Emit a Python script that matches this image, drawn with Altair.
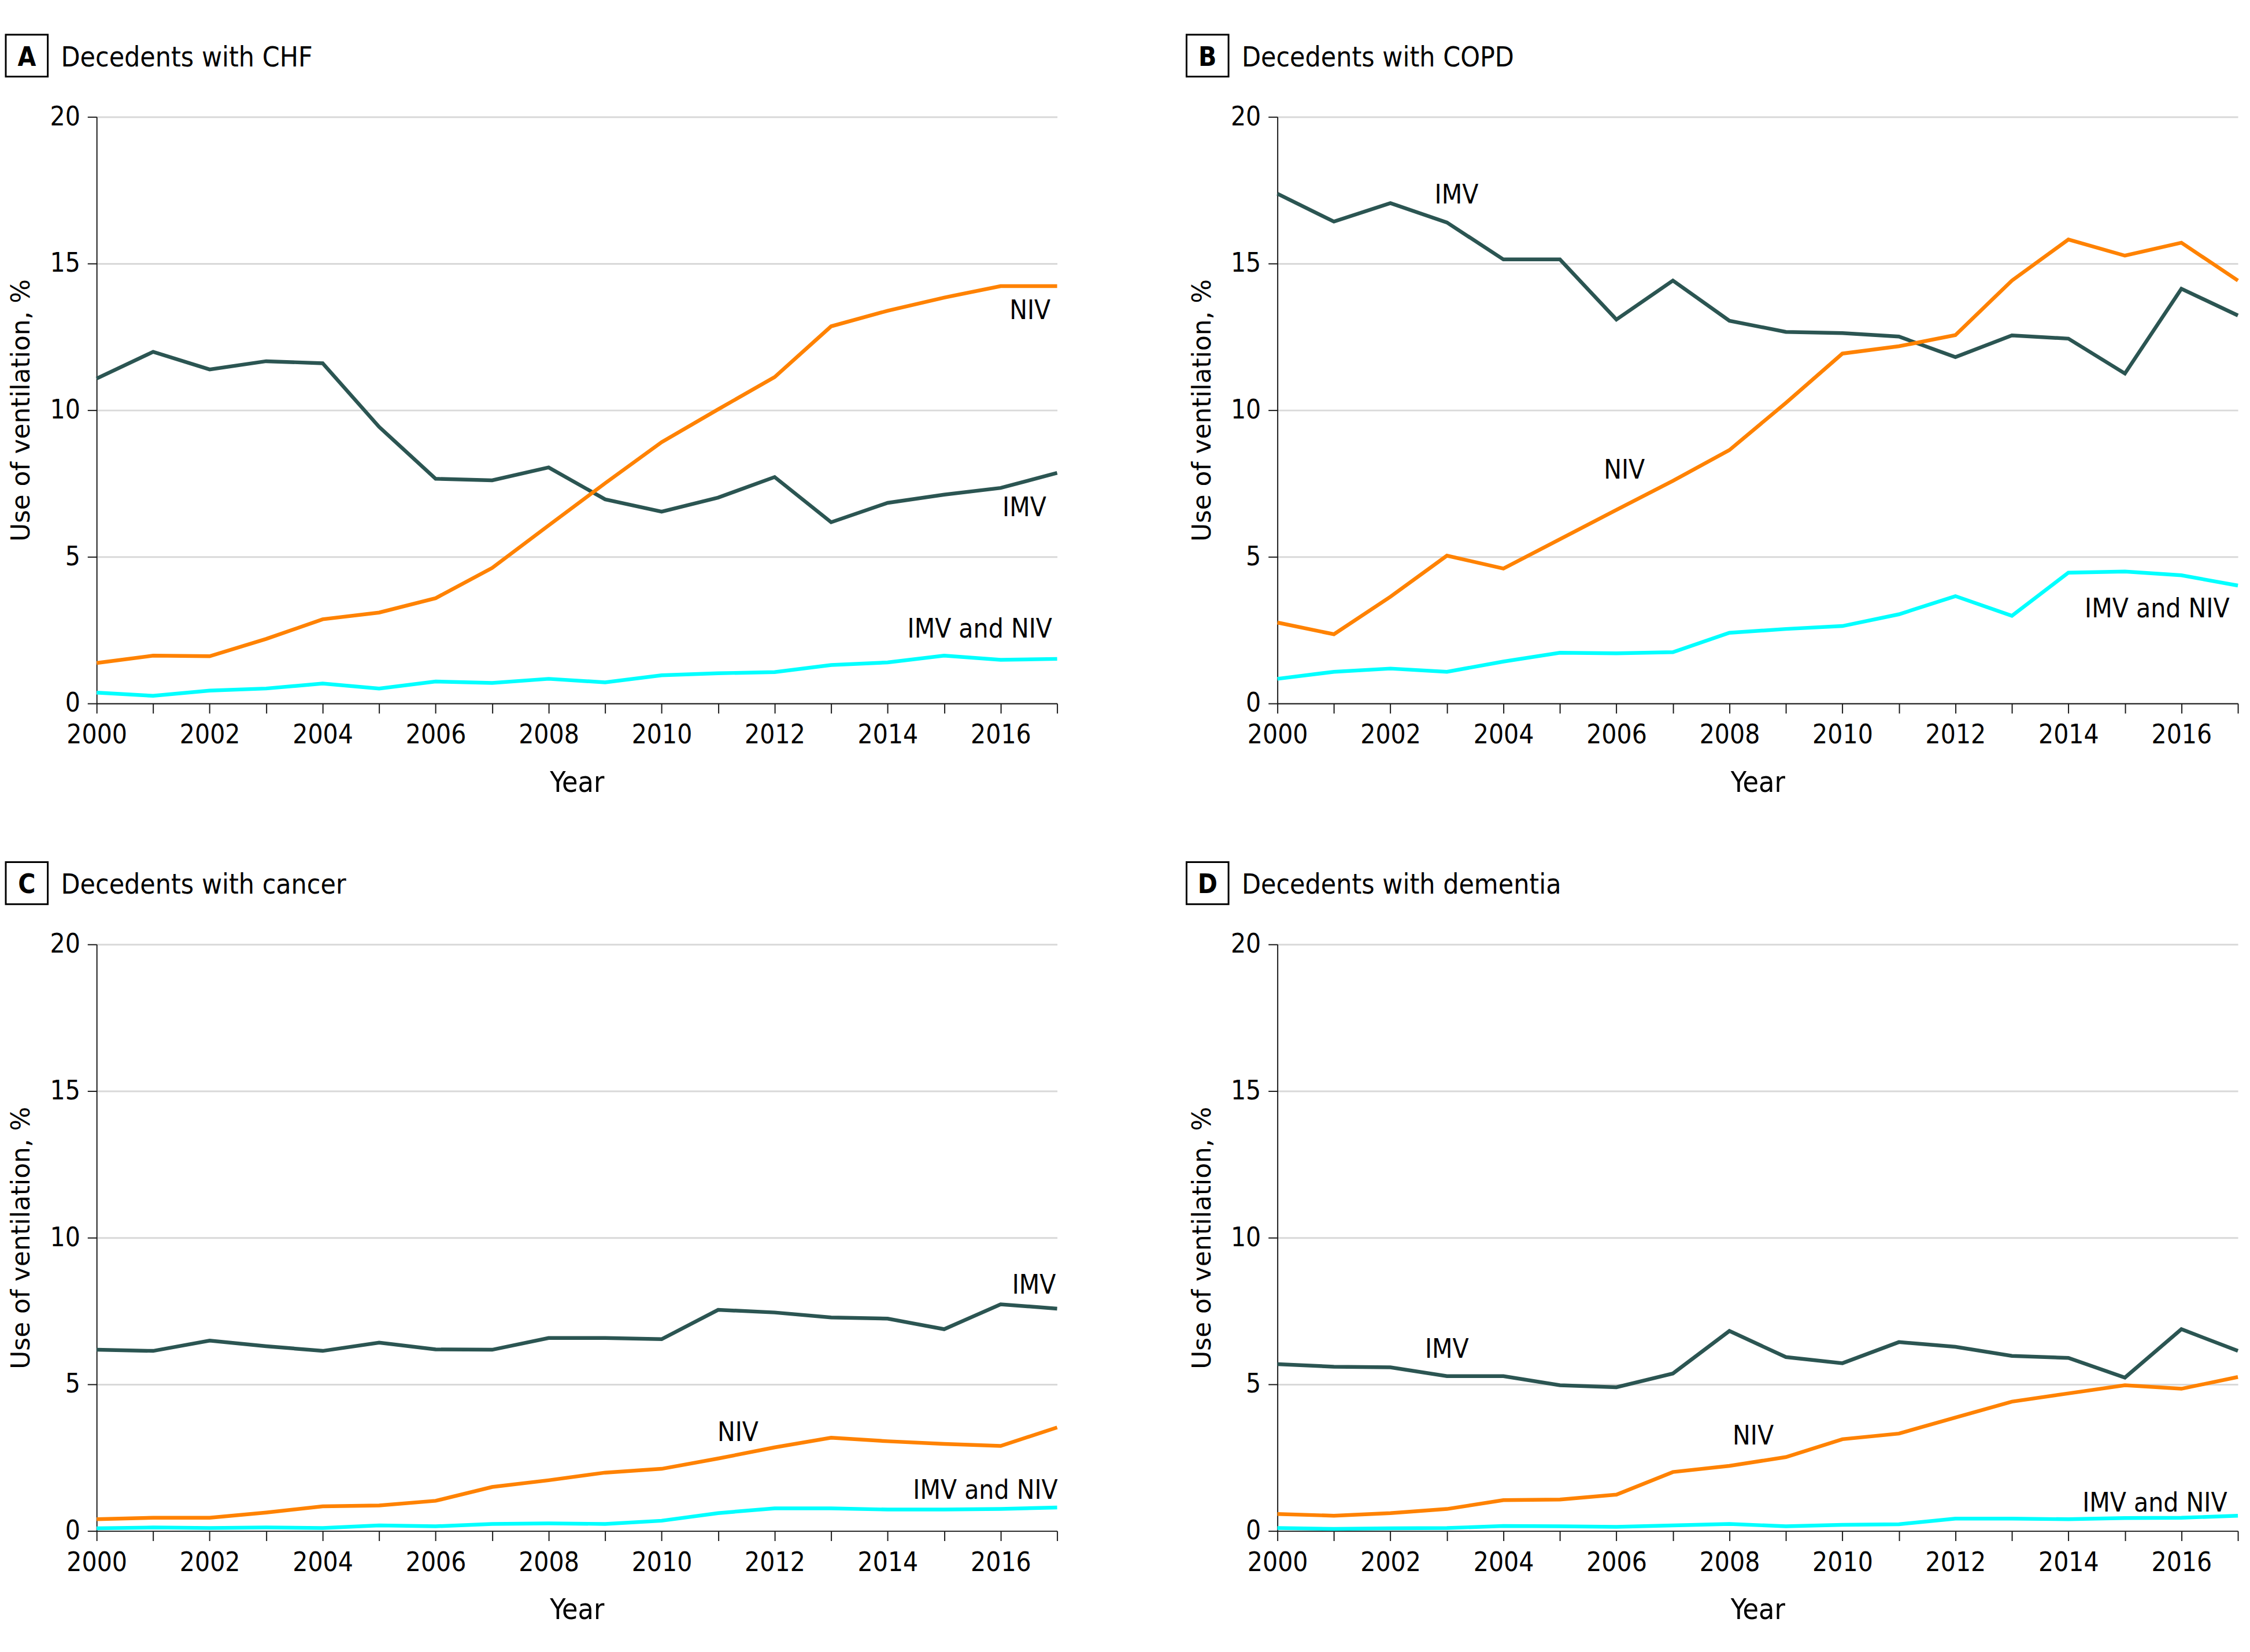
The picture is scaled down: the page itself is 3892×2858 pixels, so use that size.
import altair as alt
import pandas as pd

years = list(range(2000, 2018))

CHF_IMV = [11.08, 11.99, 11.39, 11.67, 11.60, 9.43, 7.66, 7.61, 8.05, 6.96, 6.54, 7.02, 7.72, 6.18, 6.84, 7.12, 7.35, 7.86]
CHF_NIV = [1.38, 1.63, 1.61, 2.20, 2.87, 3.10, 3.59, 4.62, 6.07, 7.51, 8.91, 10.03, 11.13, 12.86, 13.39, 13.84, 14.23, 14.23]
CHF_BOTH = [0.37, 0.26, 0.44, 0.51, 0.68, 0.51, 0.75, 0.70, 0.84, 0.72, 0.96, 1.03, 1.07, 1.31, 1.40, 1.63, 1.49, 1.52]

COPD_IMV = [17.38, 16.43, 17.06, 16.40, 15.14, 15.14, 13.09, 14.42, 13.05, 12.67, 12.63, 12.51, 11.81, 12.55, 12.44, 11.25, 14.14, 13.23]
COPD_NIV = [2.76, 2.36, 3.64, 5.04, 4.60, 5.60, 6.60, 7.59, 8.64, 10.25, 11.93, 12.18, 12.56, 14.42, 15.82, 15.27, 15.71, 14.42]
COPD_BOTH = [0.84, 1.08, 1.19, 1.08, 1.43, 1.73, 1.71, 1.75, 2.41, 2.54, 2.64, 3.04, 3.66, 2.99, 4.46, 4.50, 4.37, 4.02]

CANCER_IMV = [6.18, 6.14, 6.49, 6.30, 6.14, 6.42, 6.19, 6.18, 6.58, 6.58, 6.54, 7.54, 7.45, 7.28, 7.24, 6.88, 7.73, 7.58]
CANCER_NIV = [0.40, 0.45, 0.45, 0.63, 0.84, 0.87, 1.03, 1.50, 1.73, 1.99, 2.12, 2.47, 2.85, 3.18, 3.06, 2.97, 2.90, 3.53]
CANCER_BOTH = [0.09, 0.12, 0.10, 0.12, 0.10, 0.19, 0.16, 0.24, 0.26, 0.24, 0.35, 0.61, 0.77, 0.77, 0.73, 0.73, 0.75, 0.80]

DEM_IMV = [5.69, 5.60, 5.58, 5.28, 5.28, 4.97, 4.90, 5.37, 6.82, 5.93, 5.72, 6.44, 6.28, 5.97, 5.90, 5.23, 6.88, 6.14]
DEM_NIV = [0.58, 0.52, 0.61, 0.75, 1.05, 1.07, 1.24, 2.01, 2.22, 2.52, 3.13, 3.32, 3.87, 4.41, 4.69, 4.97, 4.85, 5.25]
DEM_BOTH = [0.10, 0.07, 0.09, 0.10, 0.17, 0.16, 0.14, 0.19, 0.24, 0.16, 0.21, 0.23, 0.42, 0.42, 0.40, 0.44, 0.45, 0.52]

SERIES = ["IMV", "NIV", "IMV and NIV"]
COLORS = ["#2b5552", "#ff8200", "#00ffff"]

# annotation label anchors (year, value) per panel, same order as SERIES
LABEL_YEAR_A = [2016.42, 2016.52, 2015.63]
LABEL_VAL_A = [6.67, 13.39, 2.53]
LABEL_YEAR_B = [2003.17, 2006.14, 2015.57]
LABEL_VAL_B = [17.33, 7.94, 3.22]
LABEL_YEAR_C = [2016.59, 2011.35, 2015.73]
LABEL_VAL_C = [8.37, 3.35, 1.38]
LABEL_YEAR_D = [2003.0, 2008.42, 2015.53]
LABEL_VAL_D = [6.17, 3.23, 0.94]

W = 1670
H = 1020
TEXT_FONT = "'Liberation Sans Narrow', 'DejaVu Sans Condensed', 'Roboto Condensed', Roboto, sans-serif"
TICK_FONT = "'Liberation Sans Narrow', 'DejaVu Sans Condensed', 'Roboto Condensed', Roboto, sans-serif"

x_enc = alt.X(
    "year:Q",
    scale=alt.Scale(domain=[2000, 2017], nice=False, zero=False),
    axis=alt.Axis(
        values=years,
        format="d",
        labelExpr="datum.value % 2 === 0 ? datum.label : ''",
        title="Year",
        labelOverlap=False,
    ),
)
y_enc = alt.Y(
    "value:Q",
    scale=alt.Scale(domain=[0, 20], nice=False),
    axis=alt.Axis(values=[0, 5, 10, 15, 20], title="Use of ventilation, %", labelOverlap=False),
)


def panel(letter, title, imv, niv, both, lab_years, lab_vals):
    df = pd.DataFrame({
        "year": years * 3,
        "value": imv + niv + both,
        "series": ["IMV"] * len(years) + ["NIV"] * len(years) + ["IMV and NIV"] * len(years),
    })
    lab = pd.DataFrame({"year": lab_years, "value": lab_vals, "series": SERIES})
    one = pd.DataFrame({"k": [0]})

    lines = alt.Chart(df).mark_line(strokeWidth=6.5).encode(
        x=x_enc,
        y=y_enc,
        color=alt.Color("series:N", scale=alt.Scale(domain=SERIES, range=COLORS), legend=None),
    )
    labels = alt.Chart(lab).mark_text(
        font=TEXT_FONT, fontSize=46, align="center", baseline="middle", color="black"
    ).encode(x=x_enc, y=y_enc, text="series:N")
    box = alt.Chart(one).mark_rect(fill="white", stroke="black", strokeWidth=3).encode(
        x=alt.value(-158), x2=alt.value(-85), y=alt.value(-143), y2=alt.value(-70)
    )
    let = alt.Chart(one).mark_text(
        text=letter, font=TEXT_FONT, fontSize=46, fontWeight="bold", align="center",
        baseline="alphabetic", color="black"
    ).encode(x=alt.value(-121.5), y=alt.value(-89))
    ttl = alt.Chart(one).mark_text(
        text=title, font=TEXT_FONT, fontSize=48, align="left", baseline="alphabetic", color="black"
    ).encode(x=alt.value(-62), y=alt.value(-88))
    return alt.layer(lines, labels, box, let, ttl).properties(width=W, height=H)


pA = panel("A", "Decedents with CHF", CHF_IMV, CHF_NIV, CHF_BOTH, LABEL_YEAR_A, LABEL_VAL_A)
pB = panel("B", "Decedents with COPD", COPD_IMV, COPD_NIV, COPD_BOTH, LABEL_YEAR_B, LABEL_VAL_B)
pC = panel("C", "Decedents with cancer", CANCER_IMV, CANCER_NIV, CANCER_BOTH, LABEL_YEAR_C, LABEL_VAL_C)
pD = panel("D", "Decedents with dementia", DEM_IMV, DEM_NIV, DEM_BOTH, LABEL_YEAR_D, LABEL_VAL_D)

chart = alt.concat(
    pA, pB, pC, pD, columns=2, spacing={"row": 419, "column": 383}, bounds="flush"
).properties(
    padding={"left": 0, "top": 43, "right": 0, "bottom": 0}
).configure_view(
    stroke=None
).configure_axis(
    domainColor="#1a1a1a",
    domainWidth=2,
    tickColor="#1a1a1a",
    tickWidth=2,
    labelColor="black",
    labelFont=TICK_FONT,
    labelFontSize=46,
    titleColor="black",
    titleFontWeight="normal",
    gridColor="#d9d9d9",
    gridWidth=3,
).configure_axisX(
    grid=False,
    tickSize=17,
    labelPadding=52,
    labelBaseline="alphabetic",
    labelFlush=False,
    titleFont=TEXT_FONT,
    titleFontSize=50,
    titleX=W / 2,
    titleY=153,
    titleBaseline="alphabetic",
    titleAlign="center",
).configure_axisY(
    grid=True,
    tickSize=16,
    labelPadding=13,
    titleFont="'DejaVu Sans'",
    titleFontSize=44,
    titleX=-130,
    titleY=H / 2,
    titleBaseline="middle",
    titleAlign="center",
    titleAngle=-90,
)

chart.save("out.html", embed_options={"renderer": "svg", "actions": False})
